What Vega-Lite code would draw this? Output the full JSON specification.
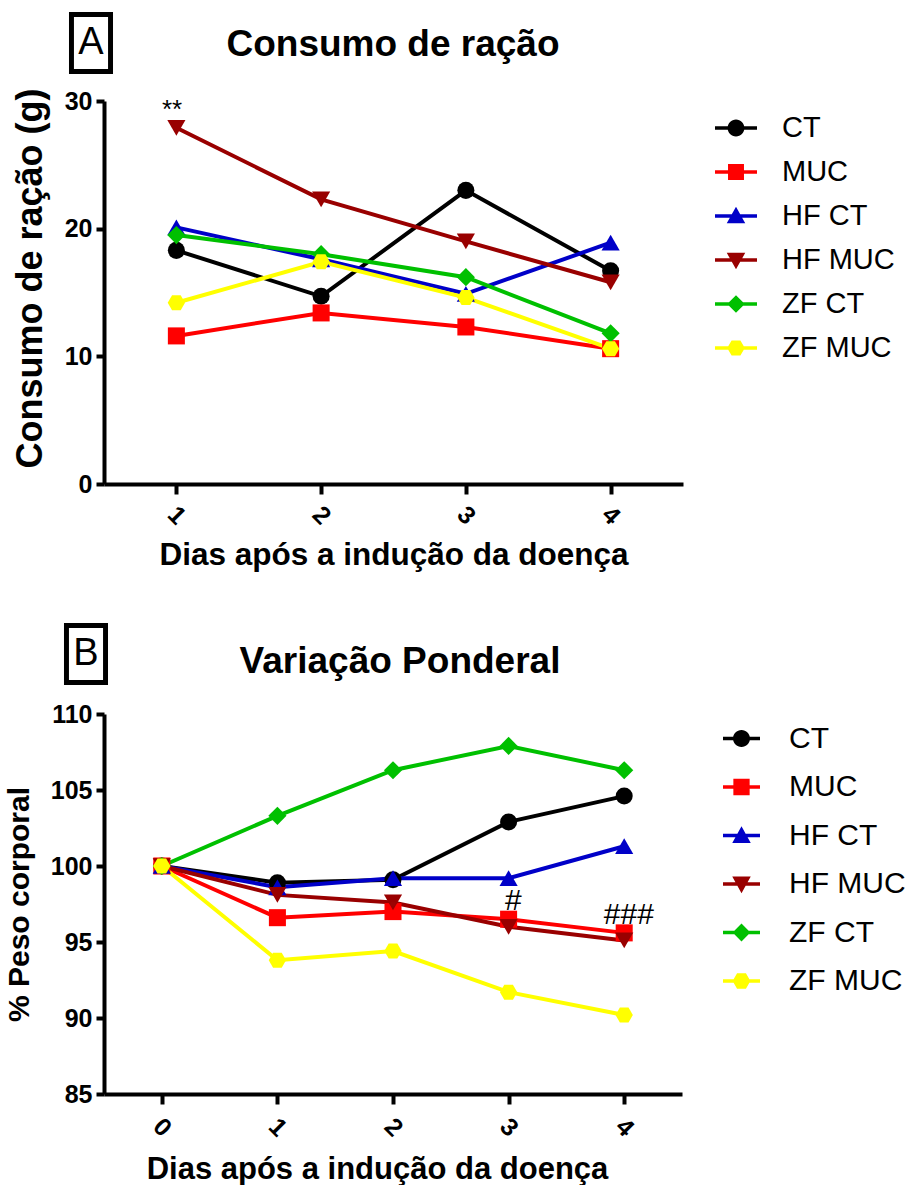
{
  "$schema": "https://vega.github.io/schema/vega-lite/v6.json",
  "background": "white",
  "padding": {"left": 4, "top": 12, "right": 0, "bottom": 0},
  "config": {
    "font": "Liberation Sans",
    "view": {"stroke": null},
    "axis": {"domainColor": "black", "domainWidth": 4, "tickColor": "black", "tickWidth": 4, "labelColor": "black", "titleColor": "black", "labelFont": "Liberation Sans", "titleFont": "Liberation Sans", "labelFontWeight": "bold", "titleFontWeight": "bold", "grid": false}
  },
  "datasets": {
    "a": [
      {"dia": 1, "grupo": "CT", "valor": 18.3}, {"dia": 2, "grupo": "CT", "valor": 14.7}, {"dia": 3, "grupo": "CT", "valor": 23.0}, {"dia": 4, "grupo": "CT", "valor": 16.7},
      {"dia": 1, "grupo": "MUC", "valor": 11.6}, {"dia": 2, "grupo": "MUC", "valor": 13.4}, {"dia": 3, "grupo": "MUC", "valor": 12.3}, {"dia": 4, "grupo": "MUC", "valor": 10.6},
      {"dia": 1, "grupo": "HF CT", "valor": 20.1}, {"dia": 2, "grupo": "HF CT", "valor": 17.6}, {"dia": 3, "grupo": "HF CT", "valor": 14.9}, {"dia": 4, "grupo": "HF CT", "valor": 18.9},
      {"dia": 1, "grupo": "HF MUC", "valor": 27.9}, {"dia": 2, "grupo": "HF MUC", "valor": 22.3}, {"dia": 3, "grupo": "HF MUC", "valor": 19.0}, {"dia": 4, "grupo": "HF MUC", "valor": 15.8},
      {"dia": 1, "grupo": "ZF CT", "valor": 19.5}, {"dia": 2, "grupo": "ZF CT", "valor": 18.0}, {"dia": 3, "grupo": "ZF CT", "valor": 16.2}, {"dia": 4, "grupo": "ZF CT", "valor": 11.8},
      {"dia": 1, "grupo": "ZF MUC", "valor": 14.2}, {"dia": 2, "grupo": "ZF MUC", "valor": 17.4}, {"dia": 3, "grupo": "ZF MUC", "valor": 14.6}, {"dia": 4, "grupo": "ZF MUC", "valor": 10.6}
    ],
    "b": [
      {"dia": 0, "grupo": "CT", "valor": 100}, {"dia": 1, "grupo": "CT", "valor": 98.9}, {"dia": 2, "grupo": "CT", "valor": 99.1}, {"dia": 3, "grupo": "CT", "valor": 102.9}, {"dia": 4, "grupo": "CT", "valor": 104.6},
      {"dia": 0, "grupo": "MUC", "valor": 100}, {"dia": 1, "grupo": "MUC", "valor": 96.6}, {"dia": 2, "grupo": "MUC", "valor": 97.0}, {"dia": 3, "grupo": "MUC", "valor": 96.5}, {"dia": 4, "grupo": "MUC", "valor": 95.6},
      {"dia": 0, "grupo": "HF CT", "valor": 100}, {"dia": 1, "grupo": "HF CT", "valor": 98.6}, {"dia": 2, "grupo": "HF CT", "valor": 99.2}, {"dia": 3, "grupo": "HF CT", "valor": 99.2}, {"dia": 4, "grupo": "HF CT", "valor": 101.3},
      {"dia": 0, "grupo": "HF MUC", "valor": 100}, {"dia": 1, "grupo": "HF MUC", "valor": 98.1}, {"dia": 2, "grupo": "HF MUC", "valor": 97.6}, {"dia": 3, "grupo": "HF MUC", "valor": 96.0}, {"dia": 4, "grupo": "HF MUC", "valor": 95.1},
      {"dia": 0, "grupo": "ZF CT", "valor": 100}, {"dia": 1, "grupo": "ZF CT", "valor": 103.3}, {"dia": 2, "grupo": "ZF CT", "valor": 106.3}, {"dia": 3, "grupo": "ZF CT", "valor": 107.9}, {"dia": 4, "grupo": "ZF CT", "valor": 106.3},
      {"dia": 0, "grupo": "ZF MUC", "valor": 100}, {"dia": 1, "grupo": "ZF MUC", "valor": 93.8}, {"dia": 2, "grupo": "ZF MUC", "valor": 94.4}, {"dia": 3, "grupo": "ZF MUC", "valor": 91.7}, {"dia": 4, "grupo": "ZF MUC", "valor": 90.2}
    ],
    "anotA": [{"dia": 0.97, "valor": 29.3, "texto": "**"}],
    "anotB": [{"dia": 3.04, "valor": 97.7, "texto": "#"}, {"dia": 4.04, "valor": 96.8, "texto": "###"}]
  },
  "columns": 1,
  "align": "none",
  "spacing": 52,
  "resolve": {"scale": {"color": "independent", "shape": "independent", "size": "independent", "opacity": "independent"}, "legend": {"color": "independent", "shape": "independent", "size": "independent", "opacity": "independent"}},
  "concat": [
    {
      "width": 579,
      "height": 383,
      "layer": [
        {
          "data": {"name": "a"},
          "mark": {"type": "line", "strokeWidth": 4},
          "encoding": {
            "x": {"field": "dia", "type": "quantitative", "scale": {"domain": [0.5, 4.5], "nice": false, "zero": false}, "axis": {"title": "Dias após a indução da doença", "values": [1, 2, 3, 4], "format": "d", "labelAngle": 45, "labelAlign": "center", "labelBaseline": "middle", "labelPadding": 21, "labelFontSize": 25, "titleFontSize": 31.5, "titlePadding": 10, "tickSize": 10}},
            "y": {"field": "valor", "type": "quantitative", "scale": {"domain": [0, 30], "nice": false}, "axis": {"title": "Consumo de ração (g)", "titleY": 177, "values": [0, 10, 20, 30], "labelFontSize": 25, "titleFontSize": 36, "titlePadding": 15, "tickSize": 8, "labelPadding": 4}},
            "color": {"field": "grupo", "type": "nominal", "scale": {"domain": ["CT", "MUC", "HF CT", "HF MUC", "ZF CT", "ZF MUC"], "range": ["#000000", "#ff0000", "#0000c8", "#990000", "#00c000", "#ffff00"]}}
          }
        },
        {"data": {"name": "a"}, "transform": [{"filter": "datum.grupo === 'CT'"}], "mark": {"type": "point", "shape": "circle", "filled": true, "size": 290, "opacity": 1}, "encoding": {"x": {"field": "dia", "type": "quantitative"}, "y": {"field": "valor", "type": "quantitative"}, "color": {"field": "grupo", "type": "nominal"}}},
        {"data": {"name": "a"}, "transform": [{"filter": "datum.grupo === 'MUC'"}], "mark": {"type": "point", "shape": "square", "filled": true, "size": 290, "opacity": 1}, "encoding": {"x": {"field": "dia", "type": "quantitative"}, "y": {"field": "valor", "type": "quantitative"}, "color": {"field": "grupo", "type": "nominal"}}},
        {"data": {"name": "a"}, "transform": [{"filter": "datum.grupo === 'HF CT'"}], "mark": {"type": "point", "shape": "triangle-up", "filled": true, "size": 330, "opacity": 1}, "encoding": {"x": {"field": "dia", "type": "quantitative"}, "y": {"field": "valor", "type": "quantitative"}, "color": {"field": "grupo", "type": "nominal"}}},
        {"data": {"name": "a"}, "transform": [{"filter": "datum.grupo === 'HF MUC'"}], "mark": {"type": "point", "shape": "triangle-down", "filled": true, "size": 330, "opacity": 1}, "encoding": {"x": {"field": "dia", "type": "quantitative"}, "y": {"field": "valor", "type": "quantitative"}, "color": {"field": "grupo", "type": "nominal"}}},
        {"data": {"name": "a"}, "transform": [{"filter": "datum.grupo === 'ZF CT'"}], "mark": {"type": "point", "shape": "diamond", "filled": true, "size": 330, "opacity": 1}, "encoding": {"x": {"field": "dia", "type": "quantitative"}, "y": {"field": "valor", "type": "quantitative"}, "color": {"field": "grupo", "type": "nominal"}}},
        {"data": {"name": "a"}, "transform": [{"filter": "datum.grupo === 'ZF MUC'"}], "mark": {"type": "point", "shape": "M-0.5,-0.866L0.5,-0.866L1,0L0.5,0.866L-0.5,0.866L-1,0Z", "filled": true, "size": 300, "opacity": 1}, "encoding": {"x": {"field": "dia", "type": "quantitative"}, "y": {"field": "valor", "type": "quantitative"}, "color": {"field": "grupo", "type": "nominal"}}},
        {
          "data": {"name": "a"},
          "mark": {"type": "point", "filled": true, "size": 1, "opacity": 0},
          "encoding": {
            "x": {"field": "dia", "type": "quantitative"},
            "y": {"field": "valor", "type": "quantitative"},
            "color": {"field": "grupo", "type": "nominal",
              "legend": {"orient": "none", "legendX": 611, "legendY": 6, "title": null, "padding": 0, "labelFontSize": 29, "labelFont": "Liberation Sans", "labelFontWeight": "normal", "labelColor": "black", "symbolSize": 1764, "symbolStrokeWidth": 0, "symbolOpacity": 1, "rowPadding": 8, "labelOffset": 25}},
            "shape": {"field": "grupo", "type": "nominal",
              "scale": {"domain": ["CT", "MUC", "HF CT", "HF MUC", "ZF CT", "ZF MUC"], "range": [
                "M-1,-0.085L1,-0.085L1,0.085L-1,0.085Z M0.4,0A0.4,0.4,0,1,1,-0.4,0A0.4,0.4,0,1,1,0.4,0Z",
                "M-1,-0.085L1,-0.085L1,0.085L-1,0.085Z M-0.38,-0.38L0.38,-0.38L0.38,0.38L-0.38,0.38Z",
                "M-1,-0.085L1,-0.085L1,0.085L-1,0.085Z M0,-0.44L0.44,0.34L-0.44,0.34Z",
                "M-1,-0.085L1,-0.085L1,0.085L-1,0.085Z M-0.44,-0.34L0.44,-0.34L0,0.44Z",
                "M-1,-0.085L1,-0.085L1,0.085L-1,0.085Z M0,-0.42L0.42,0L0,0.42L-0.42,0Z",
                "M-1,-0.085L1,-0.085L1,0.085L-1,0.085Z M-0.21,-0.36L0.21,-0.36L0.42,0L0.21,0.36L-0.21,0.36L-0.42,0Z"]},
              "legend": {"orient": "none", "legendX": 611, "legendY": 6, "title": null, "padding": 0, "labelFontSize": 29, "labelFont": "Liberation Sans", "labelFontWeight": "normal", "labelColor": "black", "symbolSize": 1764, "symbolStrokeWidth": 0, "symbolOpacity": 1, "rowPadding": 8, "labelOffset": 25}}
          }
        },
        {
          "data": {"name": "anotA"},
          "mark": {"type": "text", "fontSize": 26, "baseline": "middle", "align": "center", "font": "Liberation Sans", "color": "black"},
          "encoding": {
            "x": {"field": "dia", "type": "quantitative"},
            "y": {"field": "valor", "type": "quantitative"},
            "text": {"field": "texto"}
          }
        },
        {
          "data": {"values": [{"painel": "A"}]},
          "mark": {"type": "point", "filled": true, "color": "black", "opacity": 0},
          "encoding": {
            "size": {"field": "painel", "type": "ordinal", "scale": {"range": [3844, 3844]},
              "legend": {"orient": "none", "legendX": -44, "legendY": -89, "title": null, "padding": 0, "symbolType": "M-0.71,-1L0.71,-1L0.71,1L-0.71,1Z M-0.55,-0.84L-0.55,0.84L0.55,0.84L0.55,-0.84Z", "symbolFillColor": "black", "symbolStrokeWidth": 0, "symbolOpacity": 1, "labelFontSize": 38, "labelFont": "Liberation Sans", "labelFontWeight": "normal", "labelColor": "black", "labelAlign": "center", "labelBaseline": "middle", "labelOffset": -31}}
          }
        },
        {
          "data": {"values": [{"titulo": "Consumo de ração"}]},
          "mark": {"type": "point", "filled": true, "color": "white", "opacity": 0},
          "encoding": {
            "opacity": {"field": "titulo", "type": "ordinal", "scale": {"range": [0.01, 0.01]},
              "legend": {"orient": "none", "legendX": 0, "legendY": -75, "title": null, "padding": 0, "symbolType": "square", "symbolSize": 1, "symbolFillColor": "white", "symbolStrokeColor": "white", "symbolStrokeWidth": 0, "symbolOpacity": 0.01, "labelFontSize": 37, "labelFont": "Liberation Sans", "labelFontWeight": "bold", "labelColor": "black", "labelAlign": "center", "labelBaseline": "middle", "labelOffset": 252, "labelLimit": 1000}}
          }
        }
      ]
    },
    {
      "width": 578,
      "height": 380,
      "layer": [
        {
          "data": {"name": "b"},
          "mark": {"type": "line", "strokeWidth": 4},
          "encoding": {
            "x": {"field": "dia", "type": "quantitative", "scale": {"domain": [-0.5, 4.5], "nice": false, "zero": false}, "axis": {"title": "Dias após a indução da doença", "titleX": 273, "values": [0, 1, 2, 3, 4], "format": "d", "labelAngle": 45, "labelAlign": "center", "labelBaseline": "middle", "labelPadding": 23, "labelFontSize": 25, "titleFontSize": 31, "titlePadding": 13, "tickSize": 10}},
            "y": {"field": "valor", "type": "quantitative", "scale": {"domain": [85, 110], "nice": false, "zero": false}, "axis": {"title": "% Peso corporal", "values": [85, 90, 95, 100, 105, 110], "labelFontSize": 25, "titleFontSize": 30, "titlePadding": 16, "tickSize": 8, "labelPadding": 4}},
            "color": {"field": "grupo", "type": "nominal", "scale": {"domain": ["CT", "MUC", "HF CT", "HF MUC", "ZF CT", "ZF MUC"], "range": ["#000000", "#ff0000", "#0000c8", "#990000", "#00c000", "#ffff00"]}}
          }
        },
        {"data": {"name": "b"}, "transform": [{"filter": "datum.grupo === 'CT'"}], "mark": {"type": "point", "shape": "circle", "filled": true, "size": 290, "opacity": 1}, "encoding": {"x": {"field": "dia", "type": "quantitative"}, "y": {"field": "valor", "type": "quantitative"}, "color": {"field": "grupo", "type": "nominal"}}},
        {"data": {"name": "b"}, "transform": [{"filter": "datum.grupo === 'MUC'"}], "mark": {"type": "point", "shape": "square", "filled": true, "size": 290, "opacity": 1}, "encoding": {"x": {"field": "dia", "type": "quantitative"}, "y": {"field": "valor", "type": "quantitative"}, "color": {"field": "grupo", "type": "nominal"}}},
        {"data": {"name": "b"}, "transform": [{"filter": "datum.grupo === 'HF CT'"}], "mark": {"type": "point", "shape": "triangle-up", "filled": true, "size": 330, "opacity": 1}, "encoding": {"x": {"field": "dia", "type": "quantitative"}, "y": {"field": "valor", "type": "quantitative"}, "color": {"field": "grupo", "type": "nominal"}}},
        {"data": {"name": "b"}, "transform": [{"filter": "datum.grupo === 'HF MUC'"}], "mark": {"type": "point", "shape": "triangle-down", "filled": true, "size": 330, "opacity": 1}, "encoding": {"x": {"field": "dia", "type": "quantitative"}, "y": {"field": "valor", "type": "quantitative"}, "color": {"field": "grupo", "type": "nominal"}}},
        {"data": {"name": "b"}, "transform": [{"filter": "datum.grupo === 'ZF CT'"}], "mark": {"type": "point", "shape": "diamond", "filled": true, "size": 330, "opacity": 1}, "encoding": {"x": {"field": "dia", "type": "quantitative"}, "y": {"field": "valor", "type": "quantitative"}, "color": {"field": "grupo", "type": "nominal"}}},
        {"data": {"name": "b"}, "transform": [{"filter": "datum.grupo === 'ZF MUC'"}], "mark": {"type": "point", "shape": "M-0.5,-0.866L0.5,-0.866L1,0L0.5,0.866L-0.5,0.866L-1,0Z", "filled": true, "size": 300, "opacity": 1}, "encoding": {"x": {"field": "dia", "type": "quantitative"}, "y": {"field": "valor", "type": "quantitative"}, "color": {"field": "grupo", "type": "nominal"}}},
        {
          "data": {"name": "b"},
          "mark": {"type": "point", "filled": true, "size": 1, "opacity": 0},
          "encoding": {
            "x": {"field": "dia", "type": "quantitative"},
            "y": {"field": "valor", "type": "quantitative"},
            "color": {"field": "grupo", "type": "nominal",
              "legend": {"orient": "none", "legendX": 619, "legendY": 6, "title": null, "padding": 0, "labelFontSize": 30, "labelFont": "Liberation Sans", "labelFontWeight": "normal", "labelColor": "black", "symbolSize": 1369, "symbolStrokeWidth": 0, "symbolOpacity": 1, "rowPadding": 14.5, "labelOffset": 29}},
            "shape": {"field": "grupo", "type": "nominal",
              "scale": {"domain": ["CT", "MUC", "HF CT", "HF MUC", "ZF CT", "ZF MUC"], "range": [
                "M-1,-0.1L1,-0.1L1,0.1L-1,0.1Z M0.46,0A0.46,0.46,0,1,1,-0.46,0A0.46,0.46,0,1,1,0.46,0Z",
                "M-1,-0.1L1,-0.1L1,0.1L-1,0.1Z M-0.44,-0.44L0.44,-0.44L0.44,0.44L-0.44,0.44Z",
                "M-1,-0.1L1,-0.1L1,0.1L-1,0.1Z M0,-0.5L0.5,0.4L-0.5,0.4Z",
                "M-1,-0.1L1,-0.1L1,0.1L-1,0.1Z M-0.5,-0.4L0.5,-0.4L0,0.5Z",
                "M-1,-0.1L1,-0.1L1,0.1L-1,0.1Z M0,-0.48L0.48,0L0,0.48L-0.48,0Z",
                "M-1,-0.1L1,-0.1L1,0.1L-1,0.1Z M-0.24,-0.42L0.24,-0.42L0.48,0L0.24,0.42L-0.24,0.42L-0.48,0Z"]},
              "legend": {"orient": "none", "legendX": 619, "legendY": 6, "title": null, "padding": 0, "labelFontSize": 30, "labelFont": "Liberation Sans", "labelFontWeight": "normal", "labelColor": "black", "symbolSize": 1369, "symbolStrokeWidth": 0, "symbolOpacity": 1, "rowPadding": 14.5, "labelOffset": 29}}
          }
        },
        {
          "data": {"name": "anotB"},
          "mark": {"type": "text", "fontSize": 30, "baseline": "middle", "align": "center", "font": "Liberation Sans", "color": "black"},
          "encoding": {
            "x": {"field": "dia", "type": "quantitative"},
            "y": {"field": "valor", "type": "quantitative"},
            "text": {"field": "texto"}
          }
        },
        {
          "data": {"values": [{"painel": "B"}]},
          "mark": {"type": "point", "filled": true, "color": "black", "opacity": 0},
          "encoding": {
            "size": {"field": "painel", "type": "ordinal", "scale": {"range": [3844, 3844]},
              "legend": {"orient": "none", "legendX": -49, "legendY": -91, "title": null, "padding": 0, "symbolType": "M-0.71,-1L0.71,-1L0.71,1L-0.71,1Z M-0.55,-0.84L-0.55,0.84L0.55,0.84L0.55,-0.84Z", "symbolFillColor": "black", "symbolStrokeWidth": 0, "symbolOpacity": 1, "labelFontSize": 38, "labelFont": "Liberation Sans", "labelFontWeight": "normal", "labelColor": "black", "labelAlign": "center", "labelBaseline": "middle", "labelOffset": -31}}
          }
        },
        {
          "data": {"values": [{"titulo": "Variação Ponderal"}]},
          "mark": {"type": "point", "filled": true, "color": "white", "opacity": 0},
          "encoding": {
            "opacity": {"field": "titulo", "type": "ordinal", "scale": {"range": [0.01, 0.01]},
              "legend": {"orient": "none", "legendX": 0, "legendY": -71, "title": null, "padding": 0, "symbolType": "square", "symbolSize": 1, "symbolFillColor": "white", "symbolStrokeColor": "white", "symbolStrokeWidth": 0, "symbolOpacity": 0.01, "labelFontSize": 37, "labelFont": "Liberation Sans", "labelFontWeight": "bold", "labelColor": "black", "labelAlign": "center", "labelBaseline": "middle", "labelOffset": 259, "labelLimit": 1000}}
          }
        }
      ]
    }
  ]
}
